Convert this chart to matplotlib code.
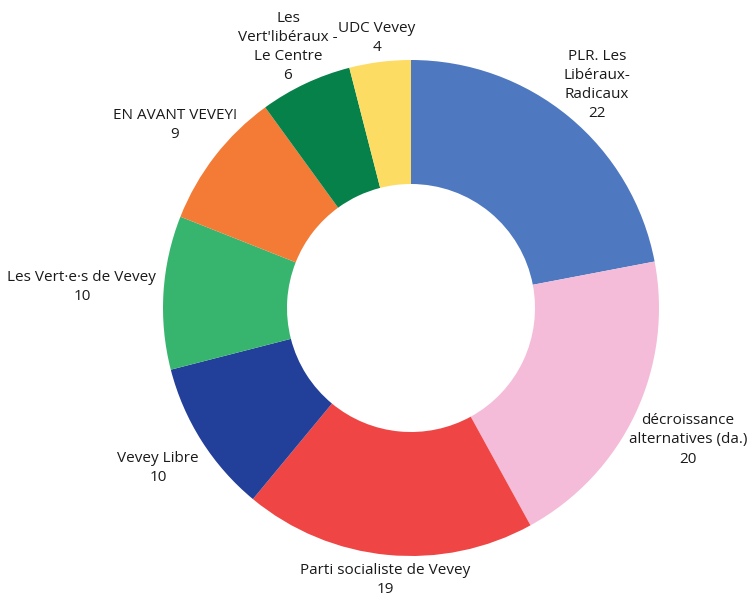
import matplotlib.pyplot as plt

# parties et sièges
partis = ["PLR. Les\nLibéraux-\nRadicaux", "décroissance\nalternatives (da.)",
          "Parti socialiste de Vevey", "Vevey Libre", "Les Vert·e·s de Vevey",
          "EN AVANT VEVEY!", "Les\nVert'libéraux -\nLe Centre", "UDC Vevey"]
sieges = [22, 20, 19, 10, 10, 9, 6, 4]
couleurs = ["#4e78bf", "#f4bcd8", "#ef4645", "#223f99", "#37b56e",
            "#f47b35", "#06814a", "#fddc63"]

# position des étiquettes (en rayons)
pos_labels = [(0.75, 0.90), (1.117, -0.532), (-0.105, -1.097), (-1.02, -0.645),
              (-1.327, 0.085), (-0.952, 0.738), (-0.496, 1.052), (-0.137, 1.09)]

plt.rcParams['font.family'] = ['Open Sans', 'DejaVu Sans']

fig = plt.figure(figsize=(7.53, 5.96), dpi=100)
ax = fig.add_axes([0, 0, 1, 1])
ax.pie(sieges, colors=couleurs, startangle=90, counterclock=False,
       wedgeprops=dict(width=0.5, linewidth=0))

for nom, val, (x, y) in zip(partis, sieges, pos_labels):
    ax.text(x, y, nom + "\n" + str(val), ha='center', va='center',
            fontsize=11, color='#1a1a1a', linespacing=1.38)

ax.set_xlim(-411 / 248, (753 - 411) / 248)
ax.set_ylim(-(596 - 308) / 248, 308 / 248)
ax.set_aspect('equal')
ax.axis('off')

fig.savefig('out.png', dpi=100)
